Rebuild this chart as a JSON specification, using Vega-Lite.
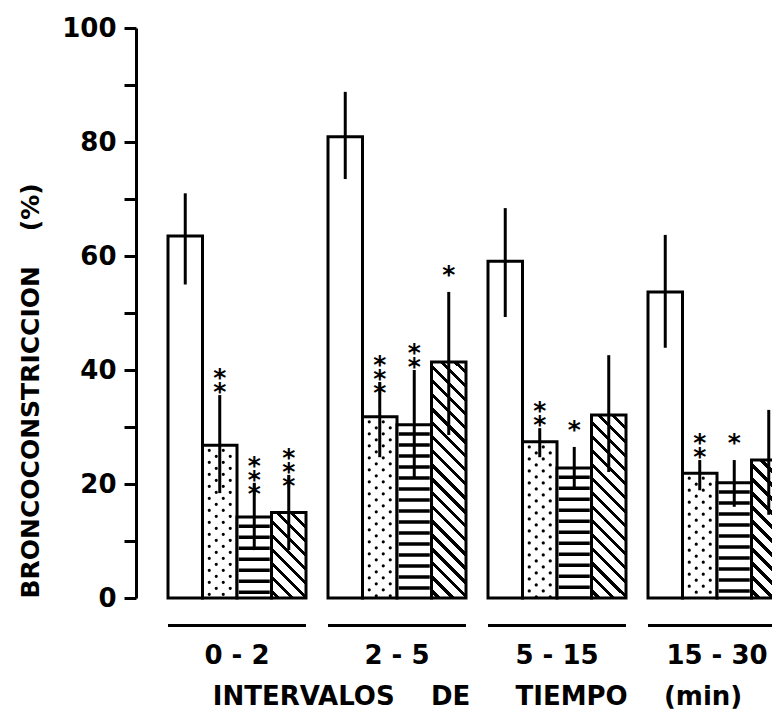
{
  "$schema": "https://vega.github.io/schema/vega-lite/v6.json",
  "autosize": "none",
  "width": 636,
  "height": 570,
  "padding": {"left": 136, "top": 28, "right": 0, "bottom": 113},
  "background": "white",
  "config": {"view": {"stroke": null}, "font": "DejaVu Sans"},
  "data": {"values": [
    {"group":"0 - 2","series":"A","value":63.5,"lo":55,"hi":71,"sig":""},
    {"group":"0 - 2","series":"B","value":26.8,"lo":18.4,"hi":35.6,"sig":"*\n*"},
    {"group":"0 - 2","series":"C","value":14.2,"lo":8.4,"hi":20.2,"sig":"*\n*\n*"},
    {"group":"0 - 2","series":"D","value":15,"lo":8.4,"hi":21.6,"sig":"*\n*\n*"},
    {"group":"2 - 5","series":"A","value":80.9,"lo":73.5,"hi":88.8,"sig":""},
    {"group":"2 - 5","series":"B","value":31.8,"lo":24.7,"hi":37.9,"sig":"*\n*\n*"},
    {"group":"2 - 5","series":"C","value":30.4,"lo":21,"hi":40,"sig":"*\n*"},
    {"group":"2 - 5","series":"D","value":41.4,"lo":28.6,"hi":53.7,"sig":"*"},
    {"group":"5 - 15","series":"A","value":59.1,"lo":49.3,"hi":68.4,"sig":""},
    {"group":"5 - 15","series":"B","value":27.4,"lo":24.7,"hi":29.8,"sig":"*\n*"},
    {"group":"5 - 15","series":"C","value":22.8,"lo":19.3,"hi":26.5,"sig":"*"},
    {"group":"5 - 15","series":"D","value":32.1,"lo":22.1,"hi":42.6,"sig":""},
    {"group":"15 - 30","series":"A","value":53.7,"lo":43.9,"hi":63.7,"sig":""},
    {"group":"15 - 30","series":"B","value":21.9,"lo":18.9,"hi":24.2,"sig":"*\n*"},
    {"group":"15 - 30","series":"C","value":20.2,"lo":16,"hi":24.2,"sig":"*"},
    {"group":"15 - 30","series":"D","value":24.2,"lo":14.6,"hi":33,"sig":""}
  ]},
  "encoding": {
    "x": {
      "field": "group", "type": "nominal",
      "scale": {"domain": ["0 - 2","2 - 5","5 - 15","15 - 30"], "range": [0, 682], "paddingInner": 0.1375, "paddingOuter": 0.2},
      "axis": {
        "domain": false, "ticks": false, "labelAngle": 0,
        "labelPadding": 44, "labelFontSize": 26, "labelFontWeight": "bold", "labelColor": "black", "labelFont": "DejaVu Sans",
        "title": "INTERVALOS\u00a0\u00a0\u00a0\u00a0DE\u00a0\u00a0\u00a0\u00a0\u00a0TIEMPO\u00a0\u00a0\u00a0\u00a0(min)",
        "titleFontSize": 26, "titleFontWeight": "bold", "titleColor": "black", "titleFont": "DejaVu Sans", "titlePadding": 15
      }
    }
  },
  "layer": [
    {
      "transform": [{"filter": "datum.series !== 'D'"}],
      "mark": {"type": "bar", "fill": "white", "stroke": "black", "strokeWidth": 3},
      "encoding": {
        "xOffset": {"field": "series", "type": "nominal", "scale": {"domain": ["A","B","C","D"], "paddingInner": 0, "paddingOuter": 0}},
        "y": {
          "field": "value", "type": "quantitative",
          "scale": {"domain": [0, 100], "nice": false},
          "axis": {
            "values": [0,10,20,30,40,50,60,70,80,90,100],
            "labelExpr": "datum.value % 20 === 0 ? datum.label : ''",
            "grid": false, "domainColor": "black", "domainWidth": 3, "tickColor": "black", "tickWidth": 3, "tickSize": 12,
            "labelPadding": 8, "labelFontSize": 26, "labelFontWeight": "bold", "labelColor": "black", "labelFont": "DejaVu Sans",
            "title": "BRONCOCONSTRICCION\u00a0\u00a0\u00a0\u00a0(%)",
            "titleFontSize": 25, "titleFontWeight": "bold", "titleColor": "black", "titleFont": "DejaVu Sans",
            "titleAngle": 270, "titleAlign": "left", "titleBaseline": "middle", "titleX": -106, "titleY": 570
          }
        }
      }
    },
    {
      "transform": [{"filter": "datum.series === 'D' && datum.group === '0 - 2'"}],
      "mark": {"type": "bar", "stroke": "black", "strokeWidth": 3, "fill": {"gradient": "linear", "x1": 0, "y1": 1, "x2": 0.4871, "y2": -0.2071, "stops": [
        {"offset":0,"color":"#fff"},
        {"offset":0.040,"color":"#fff"},{"offset":0.040,"color":"#000"},{"offset":0.077,"color":"#000"},{"offset":0.077,"color":"#fff"},
        {"offset":0.157,"color":"#fff"},{"offset":0.157,"color":"#000"},{"offset":0.194,"color":"#000"},{"offset":0.194,"color":"#fff"},
        {"offset":0.273,"color":"#fff"},{"offset":0.273,"color":"#000"},{"offset":0.311,"color":"#000"},{"offset":0.311,"color":"#fff"},
        {"offset":0.390,"color":"#fff"},{"offset":0.390,"color":"#000"},{"offset":0.427,"color":"#000"},{"offset":0.427,"color":"#fff"},
        {"offset":0.507,"color":"#fff"},{"offset":0.507,"color":"#000"},{"offset":0.544,"color":"#000"},{"offset":0.544,"color":"#fff"},
        {"offset":0.624,"color":"#fff"},{"offset":0.624,"color":"#000"},{"offset":0.661,"color":"#000"},{"offset":0.661,"color":"#fff"},
        {"offset":0.740,"color":"#fff"},{"offset":0.740,"color":"#000"},{"offset":0.777,"color":"#000"},{"offset":0.777,"color":"#fff"},
        {"offset":0.857,"color":"#fff"},{"offset":0.857,"color":"#000"},{"offset":0.894,"color":"#000"},{"offset":0.894,"color":"#fff"},
        {"offset":0.974,"color":"#fff"},{"offset":0.974,"color":"#000"},{"offset":1,"color":"#000"}
      ]}},
      "encoding": {
        "xOffset": {"field": "series", "type": "nominal"},
        "y": {"field": "value", "type": "quantitative"}
      }
    },
    {
      "transform": [{"filter": "datum.series === 'D' && datum.group === '2 - 5'"}],
      "mark": {"type": "bar", "stroke": "black", "strokeWidth": 3, "fill": {"gradient": "linear", "x1": 0, "y1": 1, "x2": 0.1640, "y2": -0.1222, "stops": [
        {"offset":0,"color":"#fff"},
        {"offset":0.020,"color":"#fff"},{"offset":0.020,"color":"#000"},{"offset":0.037,"color":"#000"},{"offset":0.037,"color":"#fff"},
        {"offset":0.072,"color":"#fff"},{"offset":0.072,"color":"#000"},{"offset":0.088,"color":"#000"},{"offset":0.088,"color":"#fff"},
        {"offset":0.124,"color":"#fff"},{"offset":0.124,"color":"#000"},{"offset":0.140,"color":"#000"},{"offset":0.140,"color":"#fff"},
        {"offset":0.175,"color":"#fff"},{"offset":0.175,"color":"#000"},{"offset":0.192,"color":"#000"},{"offset":0.192,"color":"#fff"},
        {"offset":0.227,"color":"#fff"},{"offset":0.227,"color":"#000"},{"offset":0.244,"color":"#000"},{"offset":0.244,"color":"#fff"},
        {"offset":0.279,"color":"#fff"},{"offset":0.279,"color":"#000"},{"offset":0.296,"color":"#000"},{"offset":0.296,"color":"#fff"},
        {"offset":0.331,"color":"#fff"},{"offset":0.331,"color":"#000"},{"offset":0.347,"color":"#000"},{"offset":0.347,"color":"#fff"},
        {"offset":0.383,"color":"#fff"},{"offset":0.383,"color":"#000"},{"offset":0.399,"color":"#000"},{"offset":0.399,"color":"#fff"},
        {"offset":0.434,"color":"#fff"},{"offset":0.434,"color":"#000"},{"offset":0.451,"color":"#000"},{"offset":0.451,"color":"#fff"},
        {"offset":0.486,"color":"#fff"},{"offset":0.486,"color":"#000"},{"offset":0.503,"color":"#000"},{"offset":0.503,"color":"#fff"},
        {"offset":0.538,"color":"#fff"},{"offset":0.538,"color":"#000"},{"offset":0.555,"color":"#000"},{"offset":0.555,"color":"#fff"},
        {"offset":0.590,"color":"#fff"},{"offset":0.590,"color":"#000"},{"offset":0.606,"color":"#000"},{"offset":0.606,"color":"#fff"},
        {"offset":0.642,"color":"#fff"},{"offset":0.642,"color":"#000"},{"offset":0.658,"color":"#000"},{"offset":0.658,"color":"#fff"},
        {"offset":0.693,"color":"#fff"},{"offset":0.693,"color":"#000"},{"offset":0.710,"color":"#000"},{"offset":0.710,"color":"#fff"},
        {"offset":0.745,"color":"#fff"},{"offset":0.745,"color":"#000"},{"offset":0.762,"color":"#000"},{"offset":0.762,"color":"#fff"},
        {"offset":0.797,"color":"#fff"},{"offset":0.797,"color":"#000"},{"offset":0.814,"color":"#000"},{"offset":0.814,"color":"#fff"},
        {"offset":0.849,"color":"#fff"},{"offset":0.849,"color":"#000"},{"offset":0.865,"color":"#000"},{"offset":0.865,"color":"#fff"},
        {"offset":0.901,"color":"#fff"},{"offset":0.901,"color":"#000"},{"offset":0.917,"color":"#000"},{"offset":0.917,"color":"#fff"},
        {"offset":0.952,"color":"#fff"},{"offset":0.952,"color":"#000"},{"offset":0.969,"color":"#000"},{"offset":0.969,"color":"#fff"},
        {"offset":1,"color":"#fff"}
      ]}},
      "encoding": {
        "xOffset": {"field": "series", "type": "nominal"},
        "y": {"field": "value", "type": "quantitative"}
      }
    },
    {
      "transform": [{"filter": "datum.series === 'D' && datum.group === '5 - 15'"}],
      "mark": {"type": "bar", "stroke": "black", "strokeWidth": 3, "fill": {"gradient": "linear", "x1": 0, "y1": 1, "x2": 0.2164, "y2": -0.1479, "stops": [
        {"offset":0,"color":"#fff"},
        {"offset":0.025,"color":"#fff"},{"offset":0.025,"color":"#000"},{"offset":0.046,"color":"#000"},{"offset":0.046,"color":"#fff"},
        {"offset":0.090,"color":"#fff"},{"offset":0.090,"color":"#000"},{"offset":0.110,"color":"#000"},{"offset":0.110,"color":"#fff"},
        {"offset":0.154,"color":"#fff"},{"offset":0.154,"color":"#000"},{"offset":0.175,"color":"#000"},{"offset":0.175,"color":"#fff"},
        {"offset":0.219,"color":"#fff"},{"offset":0.219,"color":"#000"},{"offset":0.239,"color":"#000"},{"offset":0.239,"color":"#fff"},
        {"offset":0.283,"color":"#fff"},{"offset":0.283,"color":"#000"},{"offset":0.304,"color":"#000"},{"offset":0.304,"color":"#fff"},
        {"offset":0.348,"color":"#fff"},{"offset":0.348,"color":"#000"},{"offset":0.368,"color":"#000"},{"offset":0.368,"color":"#fff"},
        {"offset":0.412,"color":"#fff"},{"offset":0.412,"color":"#000"},{"offset":0.433,"color":"#000"},{"offset":0.433,"color":"#fff"},
        {"offset":0.477,"color":"#fff"},{"offset":0.477,"color":"#000"},{"offset":0.497,"color":"#000"},{"offset":0.497,"color":"#fff"},
        {"offset":0.541,"color":"#fff"},{"offset":0.541,"color":"#000"},{"offset":0.562,"color":"#000"},{"offset":0.562,"color":"#fff"},
        {"offset":0.606,"color":"#fff"},{"offset":0.606,"color":"#000"},{"offset":0.626,"color":"#000"},{"offset":0.626,"color":"#fff"},
        {"offset":0.670,"color":"#fff"},{"offset":0.670,"color":"#000"},{"offset":0.691,"color":"#000"},{"offset":0.691,"color":"#fff"},
        {"offset":0.735,"color":"#fff"},{"offset":0.735,"color":"#000"},{"offset":0.755,"color":"#000"},{"offset":0.755,"color":"#fff"},
        {"offset":0.799,"color":"#fff"},{"offset":0.799,"color":"#000"},{"offset":0.820,"color":"#000"},{"offset":0.820,"color":"#fff"},
        {"offset":0.864,"color":"#fff"},{"offset":0.864,"color":"#000"},{"offset":0.884,"color":"#000"},{"offset":0.884,"color":"#fff"},
        {"offset":0.928,"color":"#fff"},{"offset":0.928,"color":"#000"},{"offset":0.949,"color":"#000"},{"offset":0.949,"color":"#fff"},
        {"offset":1,"color":"#fff"}
      ]}},
      "encoding": {
        "xOffset": {"field": "series", "type": "nominal"},
        "y": {"field": "value", "type": "quantitative"}
      }
    },
    {
      "transform": [{"filter": "datum.series === 'D' && datum.group === '15 - 30'"}],
      "mark": {"type": "bar", "stroke": "black", "strokeWidth": 3, "fill": {"gradient": "linear", "x1": 0, "y1": 1, "x2": 0.2941, "y2": -0.1765, "stops": [
        {"offset":0,"color":"#fff"},
        {"offset":0.030,"color":"#fff"},{"offset":0.030,"color":"#000"},{"offset":0.056,"color":"#000"},{"offset":0.056,"color":"#fff"},
        {"offset":0.111,"color":"#fff"},{"offset":0.111,"color":"#000"},{"offset":0.137,"color":"#000"},{"offset":0.137,"color":"#fff"},
        {"offset":0.193,"color":"#fff"},{"offset":0.193,"color":"#000"},{"offset":0.219,"color":"#000"},{"offset":0.219,"color":"#fff"},
        {"offset":0.274,"color":"#fff"},{"offset":0.274,"color":"#000"},{"offset":0.300,"color":"#000"},{"offset":0.300,"color":"#fff"},
        {"offset":0.355,"color":"#fff"},{"offset":0.355,"color":"#000"},{"offset":0.381,"color":"#000"},{"offset":0.381,"color":"#fff"},
        {"offset":0.437,"color":"#fff"},{"offset":0.437,"color":"#000"},{"offset":0.463,"color":"#000"},{"offset":0.463,"color":"#fff"},
        {"offset":0.518,"color":"#fff"},{"offset":0.518,"color":"#000"},{"offset":0.544,"color":"#000"},{"offset":0.544,"color":"#fff"},
        {"offset":0.599,"color":"#fff"},{"offset":0.599,"color":"#000"},{"offset":0.625,"color":"#000"},{"offset":0.625,"color":"#fff"},
        {"offset":0.680,"color":"#fff"},{"offset":0.680,"color":"#000"},{"offset":0.706,"color":"#000"},{"offset":0.706,"color":"#fff"},
        {"offset":0.762,"color":"#fff"},{"offset":0.762,"color":"#000"},{"offset":0.788,"color":"#000"},{"offset":0.788,"color":"#fff"},
        {"offset":0.843,"color":"#fff"},{"offset":0.843,"color":"#000"},{"offset":0.869,"color":"#000"},{"offset":0.869,"color":"#fff"},
        {"offset":0.924,"color":"#fff"},{"offset":0.924,"color":"#000"},{"offset":0.950,"color":"#000"},{"offset":0.950,"color":"#fff"},
        {"offset":1,"color":"#fff"}
      ]}},
      "encoding": {
        "xOffset": {"field": "series", "type": "nominal"},
        "y": {"field": "value", "type": "quantitative"}
      }
    },
    {
      "transform": [{"filter": "datum.series === 'C'"}],
      "mark": {"type": "rule", "color": "black", "strokeWidth": 31, "strokeDash": [3.5, 7.5], "strokeDashOffset": 3.5},
      "encoding": {
        "xOffset": {"field": "series", "type": "nominal"},
        "y": {"field": "value", "type": "quantitative"},
        "y2": {"datum": 0}
      }
    },
    {
      "transform": [{"filter": "datum.series === 'B'"}],
      "mark": {"type": "rule", "color": "black", "strokeWidth": 3.2, "strokeCap": "round", "strokeDash": [0.1, 11.9], "strokeDashOffset": 7, "xOffset": -27.75},
      "encoding": {"y": {"field": "value", "type": "quantitative"}, "y2": {"datum": 0}}
    },
    {
      "transform": [{"filter": "datum.series === 'B'"}],
      "mark": {"type": "rule", "color": "black", "strokeWidth": 3.2, "strokeCap": "round", "strokeDash": [0.1, 11.9], "strokeDashOffset": 1, "xOffset": -20.75},
      "encoding": {"y": {"field": "value", "type": "quantitative"}, "y2": {"datum": 0}}
    },
    {
      "transform": [{"filter": "datum.series === 'B'"}],
      "mark": {"type": "rule", "color": "black", "strokeWidth": 3.2, "strokeCap": "round", "strokeDash": [0.1, 11.9], "strokeDashOffset": 7, "xOffset": -13.75},
      "encoding": {"y": {"field": "value", "type": "quantitative"}, "y2": {"datum": 0}}
    },
    {
      "transform": [{"filter": "datum.series === 'B'"}],
      "mark": {"type": "rule", "color": "black", "strokeWidth": 3.2, "strokeCap": "round", "strokeDash": [0.1, 11.9], "strokeDashOffset": 1, "xOffset": -6.75},
      "encoding": {"y": {"field": "value", "type": "quantitative"}, "y2": {"datum": 0}}
    },
    {
      "mark": {"type": "rule", "color": "black", "strokeWidth": 3},
      "encoding": {
        "xOffset": {"field": "series", "type": "nominal"},
        "y": {"field": "lo", "type": "quantitative"},
        "y2": {"field": "hi"}
      }
    },
    {
      "transform": [{"filter": "datum.sig !== ''"}],
      "mark": {"type": "text", "lineBreak": "\n", "baseline": "bottom", "align": "center", "dy": -4, "fontSize": 25, "fontWeight": "bold", "font": "DejaVu Sans", "lineHeight": 14, "color": "black"},
      "encoding": {
        "xOffset": {"field": "series", "type": "nominal"},
        "y": {"field": "hi", "type": "quantitative"},
        "text": {"field": "sig"}
      }
    },
    {
      "transform": [{"filter": "datum.series === 'A'"}],
      "mark": {"type": "rect", "color": "black", "yOffset": 26, "y2Offset": 29},
      "encoding": {"y": {"datum": 0}, "y2": {"datum": 0}}
    }
  ]
}
